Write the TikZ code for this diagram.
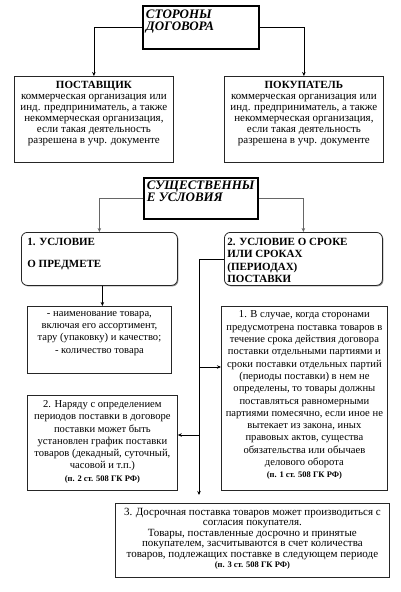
\documentclass[tikz,border=0pt]{standalone}
\usepackage{fontspec}
\setmainfont{Liberation Serif}
\usetikzlibrary{arrows.meta,shadows}

\newcommand{\boxtext}[3]{\parbox[c][#2][t]{#1}{#3}}
\newcommand{\gkfont}{\fontsize{8.5}{10}\selectfont\bfseries}

\begin{document}
\begin{tikzpicture}[x=1pt,y=-1pt,
    box/.style={draw=black!85,line width=.8pt,fill=white,anchor=north west,inner xsep=2pt,
                drop shadow={shadow xshift=1pt,shadow yshift=-1pt,fill=black!45,opacity=1}},
    headbox/.style={draw,line width=1.8pt,fill=white,anchor=north west,inner xsep=3pt,inner ysep=4pt,
                font=\fontsize{13}{12}\selectfont\bfseries\itshape},
    roundbox/.style={box,rounded corners=6pt,inner ysep=6pt,font=\fontsize{11}{12.3}\selectfont\bfseries},
    party/.style={box,inner ysep=5pt,font=\fontsize{11}{11}\selectfont},
    rulebox/.style={box,inner ysep=5pt,font=\fontsize{10.6}{12.3}\selectfont},
    arr/.style={-{Stealth[length=4pt,width=3.5pt]},line width=.7pt}]
  \useasboundingbox (0,0) rectangle (401,592);

  % parties
  \node[headbox] (sides) at (142,5) {\boxtext{110pt}{35pt}{\raggedright СТОРОНЫ\\ДОГОВОРА}};
  \node[party] (supplier) at (14,76) {\boxtext{155pt}{76pt}{\centering\textbf{ПОСТАВЩИК}\\
      коммерческая организация или\\инд. предприниматель, а также\\некоммерческая организация,\\
      если такая деятельность\\разрешена в учр. документе}};
  \node[party] (buyer) at (224,76) {\boxtext{155pt}{76pt}{\centering\textbf{ПОКУПАТЕЛЬ}\\
      коммерческая организация или\\инд. предприниматель, а также\\некоммерческая организация,\\
      если такая деятельность\\разрешена в учр. документе}};
  \draw[arr] (sides.west) -| (supplier.north);
  \draw[arr] (sides.east) -| (buyer.north);

  % essential terms
  \node[headbox,inner ysep=3pt] (essential) at (143,177) {\boxtext{108pt}{35pt}{\raggedright СУЩЕСТВЕННЫ\\Е УСЛОВИЯ}};
  \node[roundbox,inner xsep=6pt] (subject) at (21,232) {\boxtext{144pt}{41pt}{\raggedright 1. УСЛОВИЕ\\[9.7pt]О ПРЕДМЕТЕ}};
  \node[roundbox,inner xsep=3pt] (term) at (224,232) {\boxtext{152pt}{41pt}{\raggedright 2. УСЛОВИЕ О СРОКЕ\\
      ИЛИ СРОКАХ\\(ПЕРИОДАХ)\\ПОСТАВКИ}};
  \draw[arr,black!60] (essential.west) -| (subject.north);
  \draw[arr,black!60] (essential.east) -| (term.north);

  % subject
  \node[rulebox] (items) at (27,306) {\boxtext{140pt}{57pt}{\centering - наименование товара,\\
      включая его ассортимент,\\тару (упаковку) и качество;\\- количество товара}};
  \draw[arr] ([xshift=3pt]subject.south) -- ([xshift=3pt]items.north);

  % term
  \node[rulebox,inner ysep=4.5pt] (monthly) at (221,306) {\boxtext{162pt}{175pt}{\centering
      1. В случае, когда сторонами\\предусмотрена поставка товаров в\\течение срока действия договора\\
      поставки отдельными партиями и\\сроки поставки отдельных партий\\(периоды поставки) в нем не\\
      определены, то товары должны\\поставляться равномерными\\партиями помесячно, если иное не\\
      вытекает из закона, иных\\правовых актов, существа\\обязательства или обычаев\\делового оборота\\
      {\gkfont (п. 1 ст. 508 ГК РФ)}}};
  \node[rulebox] (schedule) at (27,395) {\boxtext{146pt}{85pt}{\centering
      2. Наряду с определением\\периодов поставки в договоре\\поставки может быть\\
      установлен график поставки\\товаров (декадный, суточный,\\часовой и т.п.)\\
      {\gkfont (п. 2 ст. 508 ГК РФ)}}};
  \node[rulebox,inner ysep=4.5pt,font=\fontsize{11}{10.5}\selectfont] (early) at (115,503) {\boxtext{270pt}{65pt}{\centering
      3. Досрочная поставка товаров может производиться с\\согласия покупателя.\\
      Товары, поставленные досрочно и принятые\\покупателем, засчитываются в счет количества\\
      товаров, подлежащих поставке в следующем периоде\\
      {\gkfont (п. 3 ст. 508 ГК РФ)}}};

  \coordinate (trunk) at (199,258.5);
  \coordinate (fork1) at (199,367);
  \coordinate (fork2) at (199,435);
  \draw[arr,shorten >=8pt] (term.west) -| (early.north -| trunk);
  \draw[arr] (fork1) -- (fork1 -| monthly.west);
  \draw[arr] (fork2) -- (fork2 -| schedule.east);
\end{tikzpicture}
\end{document}
